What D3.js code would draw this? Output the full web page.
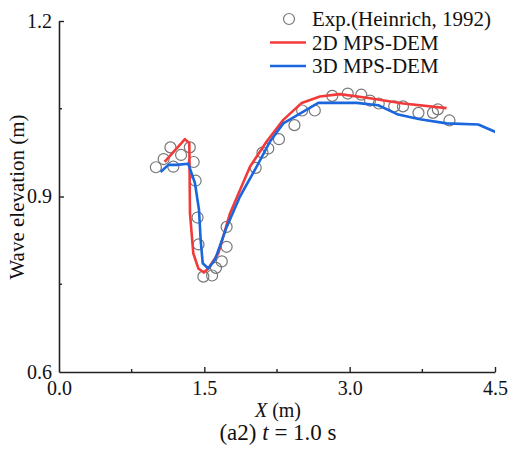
<!DOCTYPE html>
<html lang="en">
<head>
<meta charset="UTF-8">
<title>Wave elevation t = 1.0 s</title>
<style>
  body { margin: 0; background: #fff; }
  svg text { font-family: 'Liberation Serif', 'Times New Roman', serif; fill: #111; }
</style>
</head>
<body>
<div id="chart"></div>
<script src="https://cdn.jsdelivr.net/npm/d3@7/dist/d3.min.js"></script>
<script>
// experiment (Heinrich, 1992)
var expX = [1.00, 1.08, 1.15, 1.18, 1.26, 1.35, 1.39, 1.41, 1.43, 1.44, 1.49, 1.58, 1.62, 1.68, 1.73, 1.73,
            2.03, 2.10, 2.16, 2.27, 2.43, 2.51, 2.64, 2.82, 2.98, 3.12, 3.21, 3.30, 3.46, 3.55, 3.71, 3.86, 3.91, 4.03];
var expY = [0.950, 0.964, 0.984, 0.951, 0.971, 0.984, 0.959, 0.927, 0.864, 0.818, 0.763, 0.765, 0.778, 0.789, 0.814, 0.848,
            0.949, 0.975, 0.982, 0.998, 1.022, 1.047, 1.047, 1.072, 1.076, 1.074, 1.064, 1.059, 1.054, 1.054, 1.043, 1.043, 1.049, 1.030];

// 2D MPS-DEM
var x2d = [1.09, 1.30, 1.345, 1.352, 1.386, 1.438, 1.496, 1.541, 1.645, 1.765, 1.971, 2.143, 2.315, 2.505, 2.693, 2.90, 3.21, 3.553, 4.00];
var y2d = [0.959, 0.998, 0.991, 0.871, 0.803, 0.777, 0.770, 0.777, 0.803, 0.871, 0.951, 0.994, 1.031, 1.060, 1.071, 1.075, 1.068, 1.059, 1.051];

// 3D MPS-DEM
var x3d = [1.049, 1.128, 1.214, 1.334, 1.403, 1.445, 1.462, 1.483, 1.541, 1.61, 1.731, 1.868, 2.04, 2.178, 2.315, 2.676, 3.072, 3.295, 3.501, 3.725, 4.00, 4.327, 4.51];
var y3d = [0.942, 0.954, 0.954, 0.956, 0.923, 0.877, 0.826, 0.786, 0.777, 0.792, 0.848, 0.900, 0.951, 0.994, 1.025, 1.060, 1.060, 1.056, 1.040, 1.032, 1.025, 1.023, 1.010];

var xTicks = [0.0, 1.5, 3.0, 4.5];
var xMinor = [0.75, 2.25, 3.75];
var yTicks = [0.6, 0.9, 1.2];
var yMinor = [0.75, 1.05];

var W = 508, H = 454;
var mLeft = 59, mRight = 495, mTop = 21, mBottom = 372;

var svg = d3.select('#chart').append('svg').attr('width', W).attr('height', H);

var x = d3.scaleLinear().domain([0, 4.5]).range([mLeft, mRight]);
var y = d3.scaleLinear().domain([0.6, 1.2]).range([mBottom, mTop]);

var axisColor = '#222';

// clip so the 3D line stops at the frame
svg.append('clipPath').attr('id', 'clip')
  .append('rect').attr('x', mLeft).attr('y', mTop - 10).attr('width', mRight - mLeft).attr('height', mBottom - mTop + 10);

// x axis
var gx = svg.append('g').attr('transform', 'translate(0,' + mBottom + ')')
  .call(d3.axisBottom(x).tickValues(xTicks).tickFormat(d3.format('.1f')).tickSizeInner(-5).tickSizeOuter(0).tickPadding(7));
gx.selectAll('.tick').filter(function(d) { return d === 0; }).select('line').remove();
xMinor.forEach(function(v) {
  gx.append('line').attr('x1', x(v)).attr('x2', x(v)).attr('y1', 0).attr('y2', -3);
});

// y axis
var gy = svg.append('g').attr('transform', 'translate(' + mLeft + ',0)')
  .call(d3.axisLeft(y).tickValues(yTicks).tickFormat(d3.format('.1f')).tickSizeInner(-5).tickSizeOuter(0).tickPadding(7));
gy.selectAll('.tick').filter(function(d) { return d === 0.6; }).select('line').remove();
yMinor.forEach(function(v) {
  gy.append('line').attr('x1', 0).attr('x2', 3).attr('y1', y(v)).attr('y2', y(v));
});

[gx, gy].forEach(function(g) {
  g.select('.domain').attr('stroke', axisColor).attr('stroke-width', 1.6);
  g.selectAll('line').attr('stroke', axisColor).attr('stroke-width', 1.4);
  g.selectAll('text').attr('font-size', 20).attr('font-family', "'Liberation Serif', serif").attr('fill', '#111');
});
gx.selectAll('.tick text').attr('dy', '0.8em');

// axis titles
var xl = svg.append('text').attr('x', 278).attr('y', 417).attr('text-anchor', 'middle').attr('font-size', 20);
xl.append('tspan').attr('font-style', 'italic').text('X');
xl.append('tspan').text(' (m)');

svg.append('text').attr('transform', 'translate(24,197) rotate(-90)')
  .attr('text-anchor', 'middle').attr('font-size', 21).text('Wave elevation (m)');

var cap = svg.append('text').attr('x', 278).attr('y', 440).attr('text-anchor', 'middle').attr('font-size', 23);
cap.append('tspan').text('(a2) ');
cap.append('tspan').attr('font-style', 'italic').text('t');
cap.append('tspan').text(' = 1.0 s');

// series
var line = d3.line().x(function(d) { return x(d[0]); }).y(function(d) { return y(d[1]); });
var red = '#f23a3a', blue = '#1a66dd';

var plot = svg.append('g').attr('clip-path', 'url(#clip)');

plot.selectAll('circle.exp').data(d3.zip(expX, expY)).join('circle')
  .attr('class', 'exp')
  .attr('cx', function(d) { return x(d[0]); })
  .attr('cy', function(d) { return y(d[1]); })
  .attr('r', 5.5)
  .attr('fill', 'none').attr('stroke', '#777').attr('stroke-width', 1.2);

plot.append('path').datum(d3.zip(x2d, y2d)).attr('d', line)
  .attr('fill', 'none').attr('stroke', red).attr('stroke-width', 2.6).attr('stroke-linejoin', 'round');

plot.append('path').datum(d3.zip(x3d, y3d)).attr('d', line)
  .attr('fill', 'none').attr('stroke', blue).attr('stroke-width', 2.6).attr('stroke-linejoin', 'round');

// legend
var legend = [
  { label: 'Exp.(Heinrich, 1992)', type: 'circle' },
  { label: '2D MPS-DEM', type: 'line', color: red },
  { label: '3D MPS-DEM', type: 'line', color: blue }
];
var lg = svg.append('g');
legend.forEach(function(d, i) {
  var ly = 19 + i * 23.5;
  if (d.type === 'circle') {
    lg.append('circle').attr('cx', 289).attr('cy', ly).attr('r', 5.5)
      .attr('fill', 'none').attr('stroke', '#777').attr('stroke-width', 1.2);
  } else {
    lg.append('line').attr('x1', 270).attr('x2', 306).attr('y1', ly).attr('y2', ly)
      .attr('stroke', d.color).attr('stroke-width', 2.6);
  }
  lg.append('text').attr('x', 312).attr('y', ly + 7).attr('font-size', 21).text(d.label);
});
</script>
</body>
</html>
